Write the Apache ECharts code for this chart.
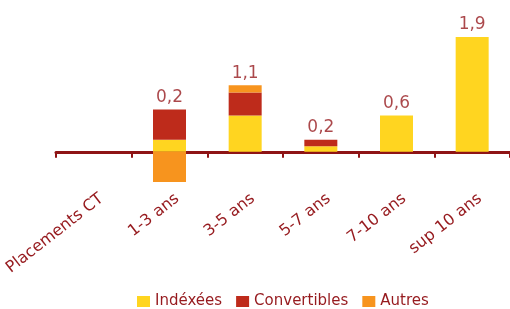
<!DOCTYPE html>
<html>
<head>
<meta charset="utf-8">
<script src="https://cdn.jsdelivr.net/npm/echarts@6/dist/echarts.min.js"></script>
<style>
  html, body { margin: 0; padding: 0; background: #fff; }
  #main { width: 510px; height: 309px; }
</style>
</head>
<body>
<div id="main"></div>
<script>
// catégories et valeurs
var categories = ['Placements CT', '1-3 ans', '3-5 ans', '5-7 ans', '7-10 ans', 'sup 10 ans'];
var indexees = [0, 0.2, 0.6, 0.09, 0.6, 1.9];
var convertibles = [0, 0.5, 0.38, 0.11, 0, 0];
var autres = [0, -0.5, 0.12, 0, 0, 0];

var textColor = '#961a1e';
var font = 'DejaVu Sans';

// totaux et hauteur du haut de la pile positive (pour placer l'étiquette)
var totals = [];
var tops = [];
categories.forEach(function (c, i) {
    var vals = [indexees[i], convertibles[i], autres[i]];
    var sum = 0, pos = 0;
    vals.forEach(function (v) { sum += v; if (v > 0) pos += v; });
    if (sum === 0 && pos === 0) {
        totals.push(null);
        tops.push('-');
    } else {
        totals.push(sum);
        tops.push([i, pos]);
    }
});

function barSeries(name, data, color) {
    return {
        name: name,
        type: 'bar',
        stack: 'total',
        barWidth: 33,
        data: data,
        itemStyle: { color: color },
        emphasis: { disabled: true }
    };
}

var chart = echarts.init(document.getElementById('main'));
chart.setOption({
    animation: false,
    textStyle: { fontFamily: font },
    legend: {
        data: ['Indéxées', 'Convertibles', 'Autres'],
        top: 294,
        left: 137,
        padding: 0,
        icon: 'rect',
        itemWidth: 13,
        itemHeight: 11,
        itemGap: 14,
        textStyle: { color: textColor, fontSize: 15, fontFamily: font }
    },
    grid: { left: 56, right: 0, top: 31, bottom: 121 },
    xAxis: {
        type: 'category',
        data: categories,
        axisLine: { onZero: true, lineStyle: { color: '#8e1415', width: 3 } },
        axisTick: { show: true, length: 6, lineStyle: { color: '#8e1415', width: 2 } },
        axisLabel: {
            rotate: 38,
            margin: 15,
            interval: 0,
            padding: [0, -10, 0, 0],
            color: textColor,
            fontSize: 16,
            fontFamily: font
        }
    },
    yAxis: {
        type: 'value',
        min: -0.6,
        max: 2.0,
        show: false,
        splitLine: { show: false }
    },
    series: [
        barSeries('Indéxées', indexees, '#ffd520'),
        barSeries('Convertibles', convertibles, '#be2b1b'),
        barSeries('Autres', autres, '#f7941e'),
        {
            name: 'total',
            type: 'scatter',
            data: tops,
            symbolSize: 1,
            itemStyle: { color: 'rgba(0,0,0,0)' },
            z: 10,
            silent: true,
            label: {
                show: true,
                position: 'top',
                distance: 3,
                color: textColor,
                fontSize: 17,
                fontFamily: font,
                formatter: function (p) {
                    return totals[p.dataIndex].toFixed(1).replace('.', ',');
                }
            }
        }
    ]
});
</script>
</body>
</html>
